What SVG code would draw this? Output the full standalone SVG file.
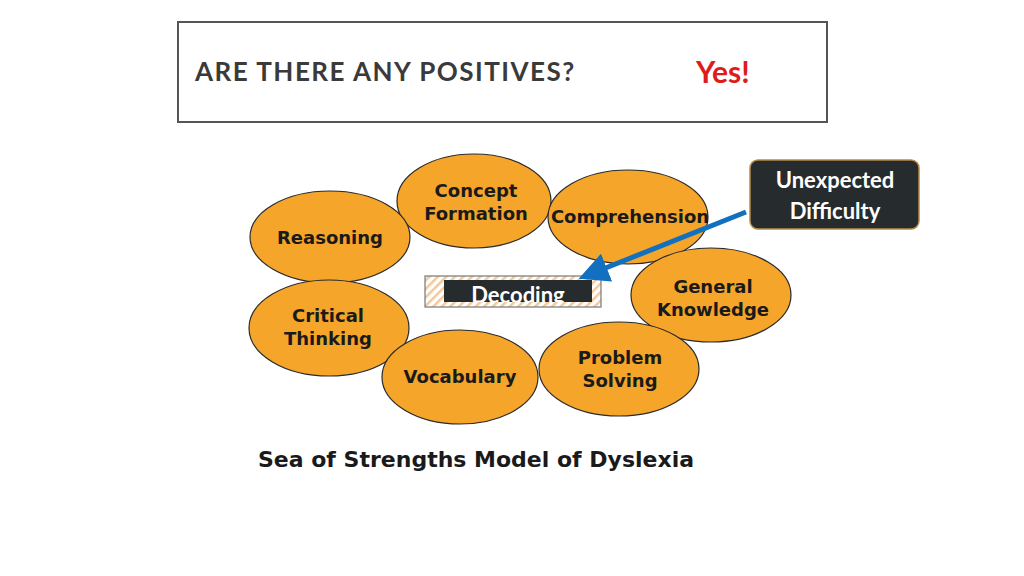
<svg xmlns="http://www.w3.org/2000/svg" width="1024" height="576" viewBox="0 0 1024 576">
<style>
.el{fill:#F4A52A;stroke:#2a2a2a;stroke-width:1.2}
.et{font-family:"DejaVu Sans",sans-serif;font-size:18px;font-weight:bold;fill:#1a1a1a;text-anchor:middle}
</style>
<defs>
<pattern id="h" width="6" height="6" patternUnits="userSpaceOnUse" patternTransform="rotate(45)">
<rect width="6" height="6" fill="#fff"/><rect width="2.5" height="6" fill="#F3C89A"/>
</pattern>
<marker id="a" markerWidth="6" markerHeight="6" refX="4" refY="3" orient="auto"><path d="M0,0L6,3L0,6z" fill="#1170C0"/></marker>
</defs>
<rect width="1024" height="576" fill="#fff"/>
<g id="title">
<rect x="178" y="22" width="649" height="100" fill="#fff" stroke="#555" stroke-width="2"/>
<text x="195" y="81" font-family="Lato,sans-serif" font-weight="bold" font-size="26" letter-spacing="1.5" fill="#3a3a3a">ARE THERE ANY POSITIVES?</text>
<text x="696" y="83" font-family="Lato,sans-serif" font-weight="bold" font-size="30" fill="#E01B1B">Yes!</text>
</g>
<g id="concept"><ellipse class="el" cx="474" cy="201" rx="77" ry="47"/><text class="et" x="476" y="197">Concept</text><text class="et" x="476" y="220">Formation</text></g>
<g id="comprehension"><ellipse class="el" cx="628" cy="217" rx="80" ry="47"/><text class="et" x="630" y="223">Comprehension</text></g>
<g id="reasoning"><ellipse class="el" cx="330" cy="237" rx="80" ry="46"/><text class="et" x="330" y="244">Reasoning</text></g>
<g id="general"><ellipse class="el" cx="711" cy="295" rx="80" ry="47"/><text class="et" x="713" y="293">General</text><text class="et" x="713" y="316">Knowledge</text></g>
<g id="critical"><ellipse class="el" cx="329" cy="328" rx="80" ry="48"/><text class="et" x="328" y="322">Critical</text><text class="et" x="328" y="345">Thinking</text></g>
<g id="vocabulary"><ellipse class="el" cx="460" cy="377" rx="78" ry="47"/><text class="et" x="460" y="383">Vocabulary</text></g>
<g id="problem"><ellipse class="el" cx="619" cy="369" rx="80" ry="47"/><text class="et" x="620" y="364">Problem</text><text class="et" x="620" y="387">Solving</text></g>
<g id="decoding">
<rect x="425" y="276" width="176" height="31" fill="url(#h)" stroke="#777" stroke-width="1.2"/>
<svg x="444" y="280" width="148" height="22"><rect width="148" height="22" fill="#262B2E"/>
<text x="74" y="23" font-family="Lato,sans-serif" font-weight="bold" font-size="22" fill="#fff" text-anchor="middle">Decoding</text></svg>
</g>
<g id="unexpected">
<rect x="750" y="160" width="169" height="69" rx="8" fill="#262B2E" stroke="#B58A4A" stroke-width="1.5"/>
<text x="835" y="188" font-family="Lato,sans-serif" font-weight="bold" font-size="22" fill="#fff" text-anchor="middle">Unexpected</text>
<text x="835" y="219" font-family="Lato,sans-serif" font-weight="bold" font-size="22" fill="#fff" text-anchor="middle">Difficulty</text>
</g>
<g id="connectors">
<line x1="746" y1="212" x2="588" y2="275" stroke="#1170C0" stroke-width="5" marker-end="url(#a)"/>
</g>
<text x="476" y="467" font-family="'DejaVu Sans',sans-serif" font-weight="bold" font-size="22" fill="#1a1a1a" text-anchor="middle">Sea of Strengths Model of Dyslexia</text>
</svg>
